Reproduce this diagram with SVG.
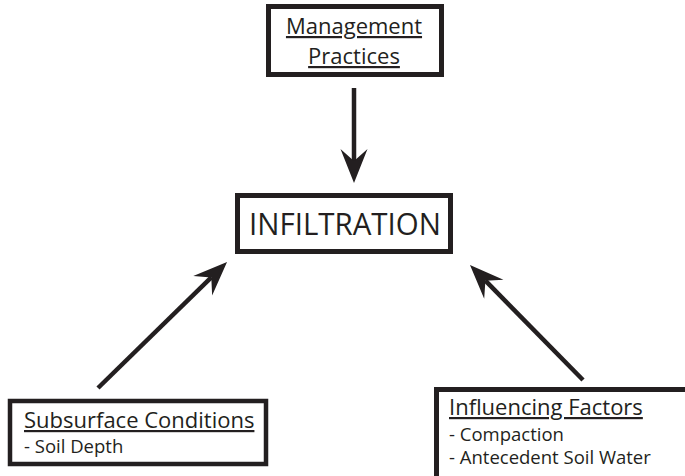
<svg xmlns="http://www.w3.org/2000/svg" width="685" height="476" viewBox="0 0 685 476">
<style>
.box{fill:#fff;stroke:#231f20;stroke-width:5}
.t{font-family:"Open Sans","Noto Sans",sans-serif;fill:#231f20}
.h{font-size:22px;text-decoration:underline}
.s{font-size:18.5px}
.c{stroke:#231f20;stroke-width:4.5;fill:none;marker-end:url(#ah)}
</style>
<defs>
<marker id="ah" markerUnits="userSpaceOnUse" orient="auto" refX="0" refY="0" markerWidth="40" markerHeight="30" viewBox="-15 -15 40 30" overflow="visible">
<path d="M22,0 L-12,-13.5 L0,0 L-12,13.5 Z" fill="#231f20"/>
</marker>
</defs>
<rect width="685" height="476" fill="#fff"/>
<g id="connectors">
<line class="c" x1="354" y1="88" x2="354" y2="161"/>
<line class="c" x1="98" y1="388" x2="211.3" y2="277.4"/>
<line class="c" x1="583" y1="380" x2="485.4" y2="280.7"/>
</g>
<g id="management">
<rect class="box" x="268.5" y="6.5" width="173" height="68"/>
<text class="t h" x="354" y="34" text-anchor="middle">Management</text>
<text class="t h" x="354" y="64" text-anchor="middle">Practices</text>
</g>
<g id="infiltration">
<rect class="box" x="237.5" y="195.5" width="213" height="56"/>
<text class="t" x="345" y="235" font-size="31" text-anchor="middle" textLength="192" lengthAdjust="spacingAndGlyphs">INFILTRATION</text>
</g>
<g id="subsurface">
<rect class="box" x="10" y="401" width="256" height="63" style="stroke-width:4.5"/>
<text class="t h" x="24" y="428">Subsurface Conditions</text>
<text class="t s" x="24" y="453">- Soil Depth</text>
</g>
<g id="influencing">
<rect class="box" x="436.5" y="389.5" width="260" height="100"/>
<text class="t h" x="449" y="415">Influencing Factors</text>
<text class="t s" x="449" y="441">- Compaction</text>
<text class="t s" x="449" y="463.5">- Antecedent Soil Water</text>
</g>
</svg>
